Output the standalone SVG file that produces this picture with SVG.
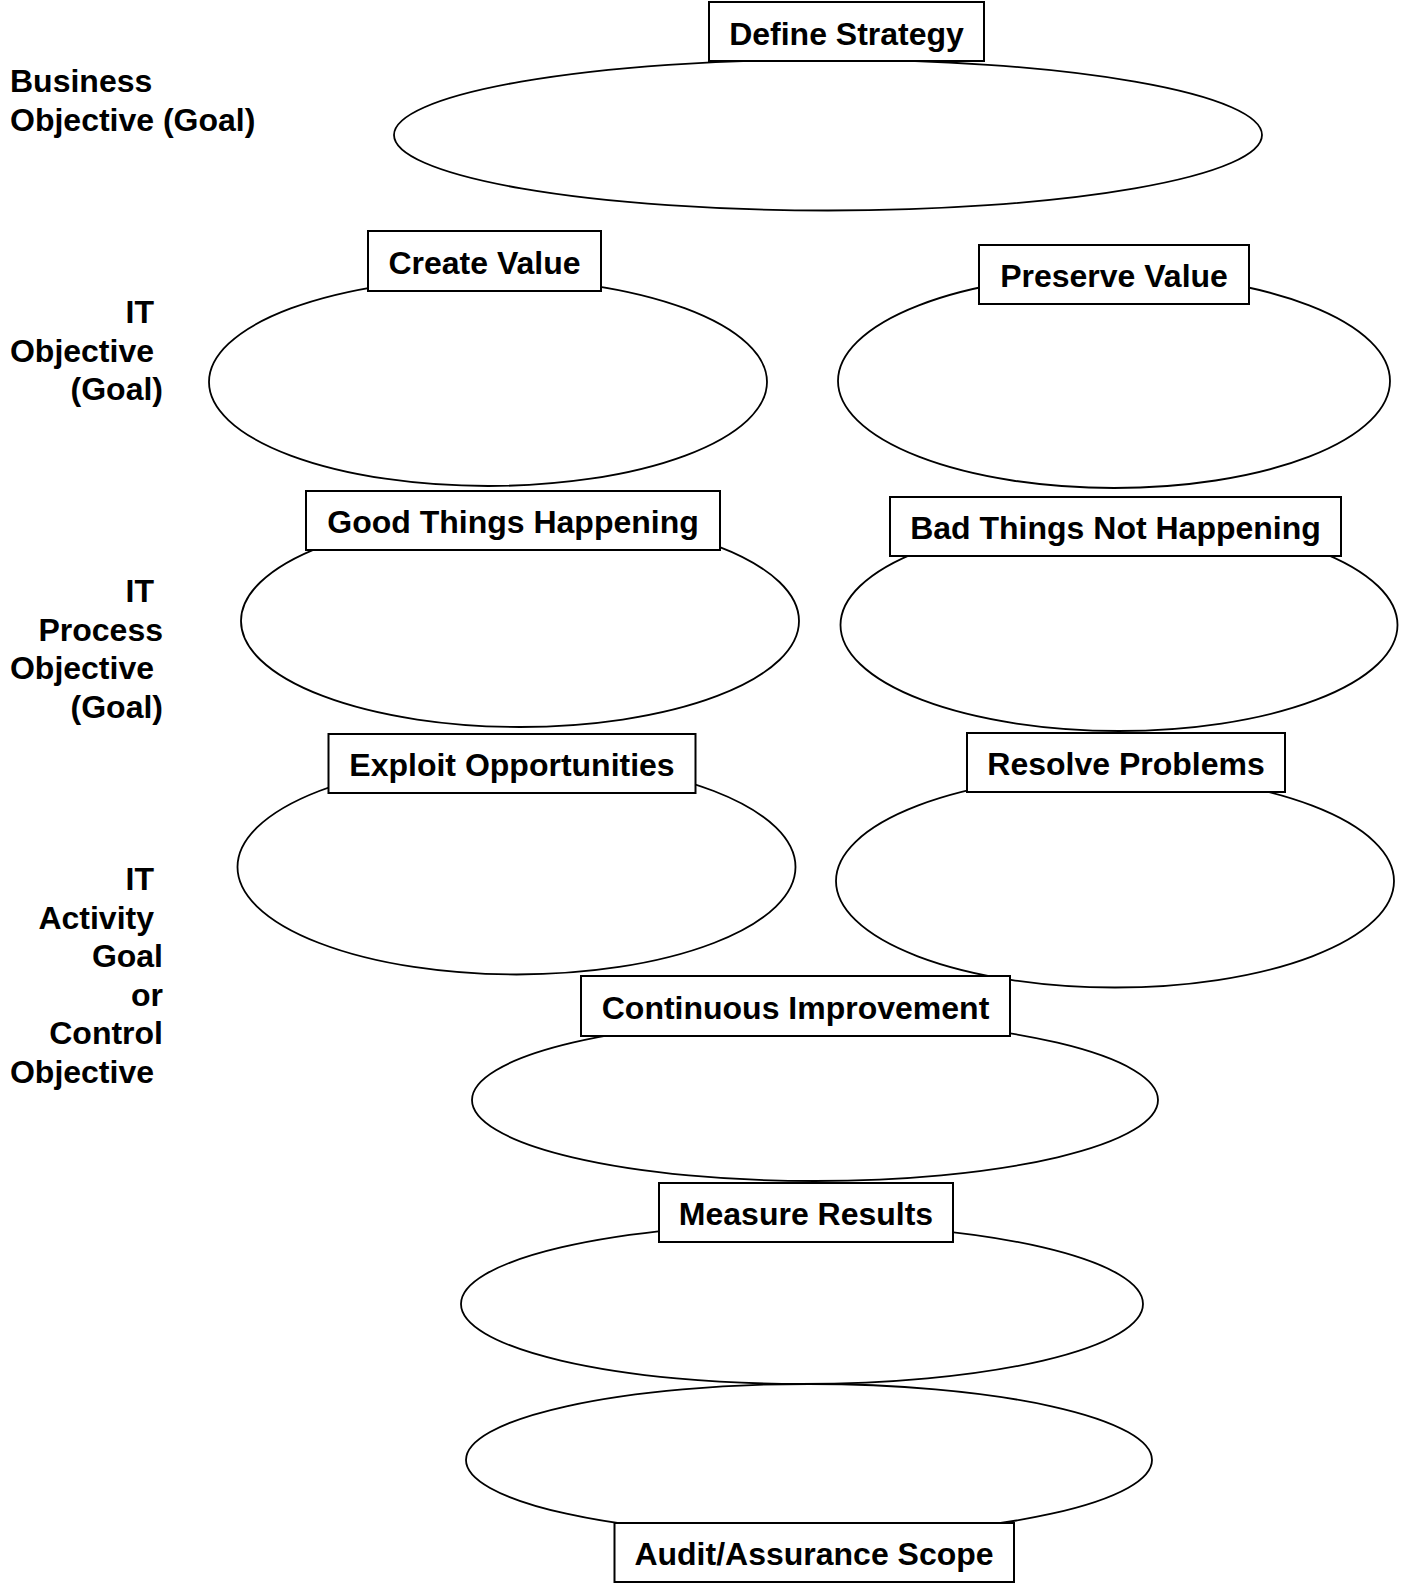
<svg xmlns="http://www.w3.org/2000/svg" width="1405" height="1585" viewBox="0 0 1405 1585">
  <style>
    .oval { fill: none; stroke: #000; stroke-width: 1.8; }
    .tag { fill: #fff; stroke: #000; stroke-width: 2; }
    .tag-text { font-family: "Liberation Sans", Arial, sans-serif; font-weight: bold; font-size: 32px; fill: #000; text-anchor: middle; }
    .side { font-family: "Liberation Sans", Arial, sans-serif; font-weight: bold; font-size: 32px; fill: #000; }
    .side-r { text-anchor: end; }
  </style>
  <rect width="1405" height="1585" fill="#fff"/>

  <!-- Level captions on the left -->
  <g id="level-labels">
    <text class="side" x="10" y="91.5">Business</text>
    <text class="side" x="10" y="130.5">Objective (Goal)</text>

    <text class="side side-r" x="154" y="323">IT</text>
    <text class="side side-r" x="154" y="361.5">Objective</text>
    <text class="side side-r" x="163" y="400">(Goal)</text>

    <text class="side side-r" x="154" y="602">IT</text>
    <text class="side side-r" x="163" y="640.5">Process</text>
    <text class="side side-r" x="154" y="679">Objective</text>
    <text class="side side-r" x="163" y="717.5">(Goal)</text>

    <text class="side side-r" x="154" y="890">IT</text>
    <text class="side side-r" x="154" y="928.5">Activity</text>
    <text class="side side-r" x="163" y="967">Goal</text>
    <text class="side side-r" x="163" y="1005.5">or</text>
    <text class="side side-r" x="163" y="1044">Control</text>
    <text class="side side-r" x="154" y="1082.5">Objective</text>
  </g>

  <g id="connectors"/>

  <g id="define-strategy">
    <ellipse class="oval" cx="828" cy="135" rx="434" ry="75.5"/>
    <rect class="tag" x="709" y="2" width="275" height="59"/>
    <text class="tag-text" x="846.5" y="44.5">Define Strategy</text>
  </g>

  <g id="create-value">
    <ellipse class="oval" cx="488" cy="382" rx="279" ry="104"/>
    <rect class="tag" x="368" y="231" width="233" height="60"/>
    <text class="tag-text" x="484.5" y="273.5">Create Value</text>
  </g>

  <g id="preserve-value">
    <ellipse class="oval" cx="1114" cy="381" rx="276" ry="107"/>
    <rect class="tag" x="979" y="245" width="270" height="59"/>
    <text class="tag-text" x="1114" y="287">Preserve Value</text>
  </g>

  <g id="good-things-happening">
    <ellipse class="oval" cx="520" cy="621" rx="279" ry="106"/>
    <rect class="tag" x="306" y="491" width="414" height="59"/>
    <text class="tag-text" x="513" y="533">Good Things Happening</text>
  </g>

  <g id="bad-things-not-happening">
    <ellipse class="oval" cx="1119" cy="625" rx="278.5" ry="106"/>
    <rect class="tag" x="890" y="497" width="451" height="59"/>
    <text class="tag-text" x="1115.5" y="539">Bad Things Not Happening</text>
  </g>

  <g id="exploit-opportunities">
    <ellipse class="oval" cx="516.5" cy="867" rx="279" ry="107.5"/>
    <rect class="tag" x="328.5" y="734" width="367" height="59"/>
    <text class="tag-text" x="512" y="776">Exploit Opportunities</text>
  </g>

  <g id="resolve-problems">
    <ellipse class="oval" cx="1115" cy="881" rx="279" ry="106.5"/>
    <rect class="tag" x="967" y="733" width="318" height="59"/>
    <text class="tag-text" x="1126" y="775">Resolve Problems</text>
  </g>

  <g id="continuous-improvement">
    <ellipse class="oval" cx="815" cy="1100" rx="343" ry="81"/>
    <rect class="tag" x="581" y="976" width="429" height="60"/>
    <text class="tag-text" x="795.5" y="1018.5">Continuous Improvement</text>
  </g>

  <g id="measure-results">
    <ellipse class="oval" cx="802" cy="1304" rx="341" ry="80"/>
    <rect class="tag" x="659" y="1183" width="294" height="59"/>
    <text class="tag-text" x="806" y="1225">Measure Results</text>
  </g>

  <g id="audit-assurance-scope">
    <ellipse class="oval" cx="809" cy="1460" rx="343" ry="76"/>
    <rect class="tag" x="614.5" y="1523" width="399.5" height="59"/>
    <text class="tag-text" x="814" y="1565">Audit/Assurance Scope</text>
  </g>
</svg>
